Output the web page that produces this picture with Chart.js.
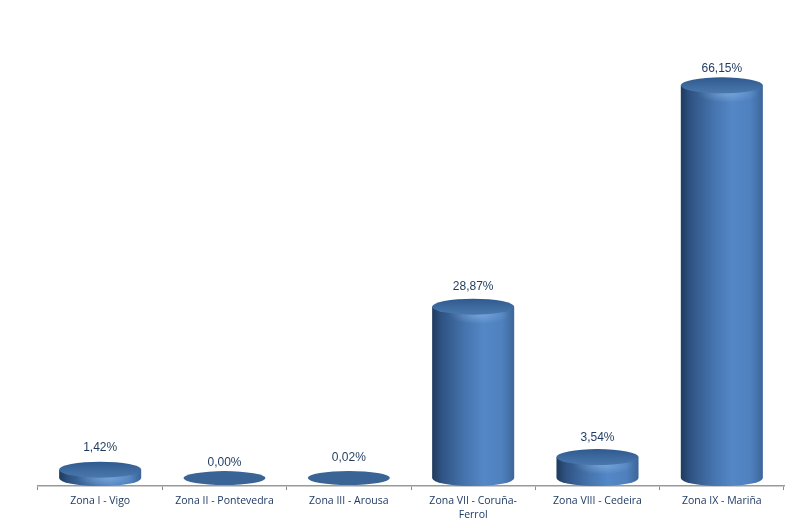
<!DOCTYPE html>
<html>
<head>
<meta charset="utf-8">
<style>
  html, body { margin: 0; padding: 0; background: #fff; }
  #wrap { width: 800px; height: 528px; }
</style>
<script src="https://cdn.jsdelivr.net/npm/chart.js@4"></script>
</head>
<body>
<div id="wrap"><canvas id="chart" width="800" height="528"></canvas></div>
<script>
const zones = ['Zona I - Vigo', 'Zona II - Pontevedra', 'Zona III - Arousa',
  ['Zona VII - Coruña-', 'Ferrol'], 'Zona VIII - Cedeira', 'Zona IX - Mariña'];
const shares = [1.42, 0.00, 0.02, 28.87, 3.54, 66.15];

const ellipseH = 8;
const barShare = 0.66;
const labelLift = [22, 15, 20, 20, 19, 17];

function sideGradient(ctx, left, right) {
  const g = ctx.createLinearGradient(left, 0, right, 0);
  g.addColorStop(0, '#1f3a5c');
  g.addColorStop(0.12, '#2f5484');
  g.addColorStop(0.4, '#4674ae');
  g.addColorStop(0.62, '#5487c6');
  g.addColorStop(0.85, '#4f81bf');
  g.addColorStop(1, '#3d6699');
  return g;
}

// cylinder ends are drawn on top of the bars the library lays out
const cylinders = {
  id: 'cylinders',
  afterDatasetsDraw(chart) {
    const c = chart.ctx;
    chart.getDatasetMeta(0).data.forEach((bar, i) => {
      const rx = bar.width / 2;
      const left = bar.x - rx, right = bar.x + rx;
      const solid = shares[i] > 0.1;
      c.save();
      if (solid) {
        // bottom cap
        c.fillStyle = sideGradient(c, left, right);
        c.beginPath();
        c.ellipse(bar.x, bar.base, rx, ellipseH, 0, 0, Math.PI);
        c.fill();
        // soft light on the rim under the top
        c.save();
        c.translate(bar.x + rx * 0.15, bar.y + ellipseH);
        c.scale(1, 0.3);
        const glow = c.createRadialGradient(0, 0, 0, 0, 0, rx * 0.75);
        glow.addColorStop(0, 'rgba(160,200,240,0.45)');
        glow.addColorStop(1, 'rgba(160,200,240,0)');
        c.fillStyle = glow;
        c.beginPath();
        c.arc(0, 0, rx * 0.75, 0, Math.PI * 2);
        c.fill();
        c.restore();
      }
      // top cap
      const top = c.createLinearGradient(0, bar.y - ellipseH, 0, bar.y + ellipseH);
      top.addColorStop(0, '#2f5a8f');
      top.addColorStop(1, '#4a78ad');
      c.fillStyle = solid ? top : '#3a6495';
      c.beginPath();
      c.ellipse(bar.x, bar.y, rx, solid ? ellipseH : 7, 0, 0, Math.PI * 2);
      c.fill();
      // value label
      c.fillStyle = '#1f3a5f';
      c.font = '12px "Liberation Sans"';
      c.textAlign = 'center';
      c.textBaseline = 'middle';
      c.fillText(shares[i].toFixed(2).replace('.', ',') + '%', bar.x, bar.y - labelLift[i]);
      c.restore();
    });
  }
};

new Chart(document.getElementById('chart'), {
  type: 'bar',
  data: {
    labels: zones,
    datasets: [{
      data: shares,
      barPercentage: barShare,
      categoryPercentage: 1,
      backgroundColor: ctx => {
        const xs = ctx.chart.scales.x;
        const cx = xs.getPixelForValue(ctx.dataIndex);
        if (!isFinite(cx)) return '#4674ae';
        const w = xs.width / zones.length * barShare;
        return sideGradient(ctx.chart.ctx, cx - w / 2, cx + w / 2);
      }
    }]
  },
  options: {
    responsive: false,
    animation: false,
    layout: { padding: { left: 38, right: 16, top: 15, bottom: 2 } },
    plugins: { legend: { display: false }, tooltip: { enabled: false } },
    scales: {
      x: {
        offset: true,
        border: { color: '#999999', width: 1.5 },
        grid: { offset: true, drawOnChartArea: false, color: '#8c8c8c', tickLength: 4 },
        ticks: {
          maxRotation: 0,
          autoSkip: false,
          color: '#1f3a64',
          padding: 4,
          font: { family: '"Open Sans"', size: 10.5, lineHeight: 1.33 }
        }
      },
      y: { display: false, min: -1.34, max: 78 }
    }
  },
  plugins: [cylinders]
});
</script>
</body>
</html>
